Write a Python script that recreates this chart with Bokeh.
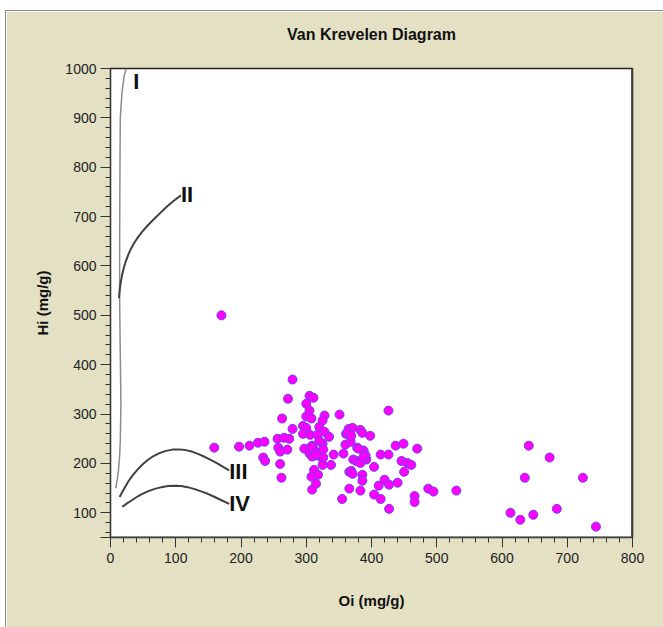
from bokeh.plotting import figure
from bokeh.models import Range1d, FixedTicker, Span, ColumnDataSource, Title
from bokeh.core.properties import value
from bokeh.embed import file_html
from bokeh.resources import INLINE

# ---- sample points (Oi, Hi) ----
oi = [170, 159, 197, 213, 226, 236, 234, 237, 256, 257, 260, 260, 262, 263, 279, 272,
      305, 311, 300, 305, 300, 308, 328, 325, 351, 279, 295, 300, 320, 328, 274, 266,
      295, 306, 317, 335, 365, 361, 271, 297, 309, 312, 325, 320, 305, 317, 325, 309,
      342, 360, 368, 325, 338, 312, 318, 308, 315, 309, 355, 366, 366, 426, 371, 363,
      369, 383, 386, 398, 437, 449, 470, 357, 378, 388, 414, 426, 372, 377, 384, 392,
      391, 383, 404, 446, 455, 461, 369, 371, 386, 450, 420, 427, 440, 386, 411, 383,
      487, 495, 530, 404, 414, 466, 466, 427, 641, 673, 635, 724, 613, 628, 648, 684,
      744, 380, 388, 326, 308, 326, 315]
hi = [500, 232, 234, 236, 242, 244, 212, 205, 250, 232, 224, 199, 171, 291, 370, 331,
      337, 333, 321, 307, 295, 291, 297, 287, 299, 270, 276, 272, 274, 264, 250, 252,
      260, 258, 258, 254, 270, 260, 228, 230, 236, 228, 240, 246, 220, 216, 210, 214,
      218, 238, 244, 197, 197, 187, 177, 173, 159, 147, 128, 149, 183, 307, 272, 262,
      256, 268, 262, 256, 236, 240, 230, 220, 232, 226, 218, 218, 208, 205, 205, 208,
      216, 201, 193, 205, 201, 197, 185, 179, 177, 183, 167, 157, 161, 165, 155, 145,
      149, 143, 145, 137, 128, 134, 122, 108, 236, 212, 171, 171, 100, 86, 96, 108,
      72, 230, 214, 212, 234, 228, 218]

# ---- kerogen type curves (Oi, Hi) ----
t1_oi = [8, 10, 12, 14, 15, 16, 15, 14, 14, 14.5, 15, 17.5, 21, 24]
t1_hi = [150, 165, 183, 215, 245, 320, 420, 530, 650, 800, 900, 950, 985, 1000]
t2_oi = [13, 14, 15.5, 17.5, 20, 23, 27, 31, 36, 42, 49, 57, 66, 76, 87, 98, 108]
t2_hi = [535, 550, 565, 580, 594, 608, 622, 634, 646, 658, 670, 682, 694, 707, 721, 733, 743]
t3_oi = [14, 18, 23, 28, 34, 41, 49, 57, 66, 75, 85, 95, 105, 115, 125, 135, 145, 155, 165, 174, 182]
t3_hi = [132, 142, 154, 165, 176, 187, 198, 207, 215, 221, 225.5, 228, 228.5, 227, 224, 219, 213, 206, 199, 192, 186]
t4_oi = [18, 24, 31, 39, 48, 58, 68, 78, 88, 98, 108, 118, 129, 139, 149, 159, 170, 182]
t4_hi = [112, 118, 124, 131, 138, 144, 148.5, 152, 154.5, 155, 154.5, 152, 148, 143.5, 138.5, 132.5, 125.5, 118]

type_labels = ["I", "II", "III", "IV"]
type_label_oi = [35, 108, 182, 182]
type_label_hi = [974, 745, 184, 118]

title_text = "Van Krevelen Diagram"
x_ticks = [0, 100, 200, 300, 400, 500, 600, 700, 800]
y_ticks = [50, 100, 200, 300, 400, 500, 600, 700, 800, 900, 1000]

BEIGE = "#E3E0C4"
FONT = "Liberation Sans"
W, H = 658, 617

p = figure(width=W, height=H, x_range=Range1d(0, 800), y_range=Range1d(50, 1000),
           output_backend="svg", toolbar_location=None, title=title_text,
           min_border_left=104, min_border_right=32, min_border_top=57, min_border_bottom=91)
p.margin = (10, 0, 0, 5)
p.styles = {"border-top": "1px solid #8a8a8a", "border-left": "1px solid #8a8a8a"}
p.border_fill_color = BEIGE
p.background_fill_color = "white"
p.outline_line_color = "#222222"
p.outline_line_width = 1.5
p.grid.visible = False

p.title.align = "center"
p.title.vertical_align = "top"
p.title.text_font = FONT
p.title.text_font_size = "16px"
p.title.text_font_style = "bold"
p.title.text_color = "#111111"
p.title.standoff = 0

# blank spacer between the title and the plot frame, lifting the title
p.add_layout(Title(text=" ", text_font=FONT, text_font_size="16px", standoff=5,
                   vertical_align="top"), "above")

p.xaxis.ticker = FixedTicker(ticks=x_ticks, minor_ticks=list(range(0, 801, 20)))
p.yaxis.ticker = FixedTicker(ticks=y_ticks, minor_ticks=list(range(60, 1001, 20)))
p.yaxis.major_label_overrides = {50: ""}
p.xaxis.axis_label = "Oi (mg/g)"
p.yaxis.axis_label = "Hi (mg/g)"
for ax in (p.xaxis[0], p.yaxis[0]):
    ax.axis_line_color = "#333333"
    ax.major_tick_line_color = "#333333"
    ax.minor_tick_line_color = "#333333"
    ax.major_tick_out = 10
    ax.major_tick_in = 0
    ax.minor_tick_out = 5
    ax.minor_tick_in = 0
    ax.major_label_text_font = FONT
    ax.major_label_text_font_size = "14px"
    ax.major_label_text_color = "#222222"
    ax.axis_label_text_font = FONT
    ax.axis_label_text_font_size = "15px"
    ax.axis_label_text_font_style = "bold"
    ax.axis_label_text_color = "#111111"
p.yaxis.major_label_standoff = 4
p.xaxis.major_label_standoff = 5
p.yaxis.axis_label_standoff = 11
p.xaxis.axis_label_standoff = 26

# heavier right/bottom frame edges
p.add_layout(Span(location=800, dimension="height", line_color="#555555", line_width=3))
p.add_layout(Span(location=50, dimension="width", line_color="#555555", line_width=2))

p.line(t1_oi, t1_hi, line_color="#8c8c8c", line_width=1.5)
p.line(t2_oi, t2_hi, line_color="#404040", line_width=2)
p.line(t3_oi, t3_hi, line_color="#404040", line_width=2)
p.line(t4_oi, t4_hi, line_color="#404040", line_width=2)

lab = ColumnDataSource(dict(x=type_label_oi, y=type_label_hi, t=type_labels))
p.text(x="x", y="y", text="t", source=lab, text_font=value(FONT), text_font_style="bold",
       text_font_size="22px", text_align="left", text_baseline="middle", text_color="#111111")

p.scatter(oi, hi, size=9, marker="circle", fill_color="#FF00FF", line_color="#7040F0", line_width=1)

open("out.html", "w").write(file_html(p, INLINE))
